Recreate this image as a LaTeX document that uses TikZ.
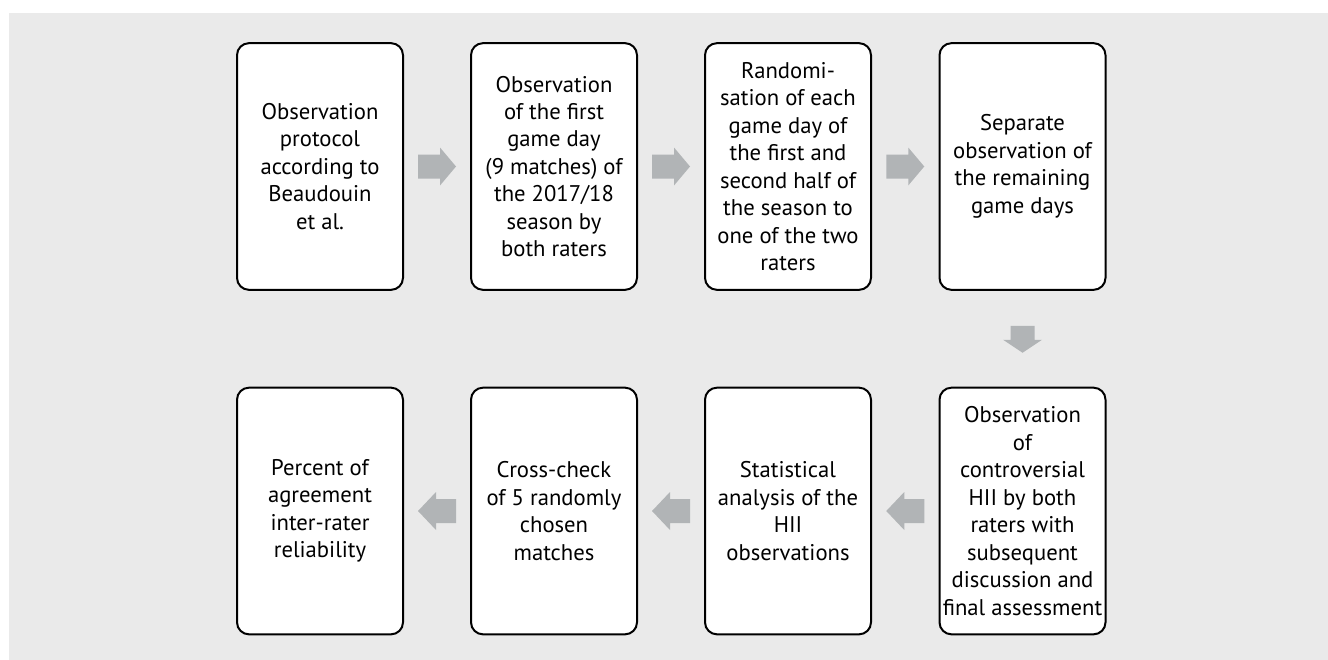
\documentclass[tikz,border=0pt]{standalone}
\usepackage{fontspec}
\setmainfont{PT Sans}
\usetikzlibrary{calc}
\definecolor{bggray}{HTML}{EAEAEA}
\definecolor{arrowgray}{HTML}{B1B4B6}
\tikzset{
  stepbox/.style={draw=black, fill=white, line width=1.5pt, rounded corners=9pt,
    minimum width=124.5pt, minimum height=185pt, align=center, inner sep=0pt,
    font=\fontsize{17}{20.6}\selectfont},
  blockarrow/.style={fill=arrowgray}
}
\newcommand\rarrow[1]{\fill[blockarrow, shift={(#1)}] (-19,-12) -- (3,-12) -- (3,-19) -- (19,0) -- (3,19) -- (3,12) -- (-19,12) -- cycle;}
\newcommand\larrow[1]{\fill[blockarrow, shift={(#1)}] (19,-12) -- (-1,-12) -- (-1,-19) -- (-19,0) -- (-1,19) -- (-1,12) -- (19,12) -- cycle;}
\newcommand\darrow[1]{\fill[blockarrow, shift={(#1)}] (-12,-13) -- (12,-13) -- (12,1) -- (19.5,1) -- (0,14) -- (-19.5,1) -- (-12,1) -- cycle;}
\begin{document}
\begin{tikzpicture}[x=0.75pt, y=-0.75pt]
\useasboundingbox (0,0) rectangle (1328,660);
\fill[bggray] (9,13) rectangle (1328,660);
\node[stepbox] (a) at (320,166.5) {Observation\\protocol\\according to\\Beaudouin\\et al.};
\node[stepbox] (b) at (554,166.5) {Observation\\of the first\\game day\\(9 matches) of\\the 2017/18\\season by\\both raters};
\node[stepbox] (c) at (788,166.5) {Randomi-\\sation of each\\game day of\\the first and\\second half of\\the season to\\one of the two\\raters};
\node[stepbox] (d) at (1022.5,166.5) {Separate\\observation of\\the remaining\\game days};
\node[stepbox] (e) at (1022.5,511) {Observation\\of\\controversial\\HII by both\\raters with\\subsequent\\discussion and\\final assessment};
\node[stepbox] (f) at (788,511) {Statistical\\analysis of the\\HII\\observations};
\node[stepbox] (g) at (554,511) {Cross-check\\of 5 randomly\\chosen\\matches};
\node[stepbox] (h) at (320,511) {Percent of\\agreement\\inter-rater\\reliability};
\coordinate (ab) at ($(a.east)!0.5!(b.west)$);
\coordinate (bc) at ($(b.east)!0.5!(c.west)$);
\coordinate (cd) at ($(c.east)!0.5!(d.west)$);
\coordinate (de) at ($(d.south)!0.5!(e.north)$);
\coordinate (ef) at ($(e.west)!0.5!(f.east)$);
\coordinate (fg) at ($(f.west)!0.5!(g.east)$);
\coordinate (gh) at ($(g.west)!0.5!(h.east)$);
\rarrow{ab}
\rarrow{bc}
\rarrow{cd}
\darrow{de}
\larrow{ef}
\larrow{fg}
\larrow{gh}
\end{tikzpicture}
\end{document}
